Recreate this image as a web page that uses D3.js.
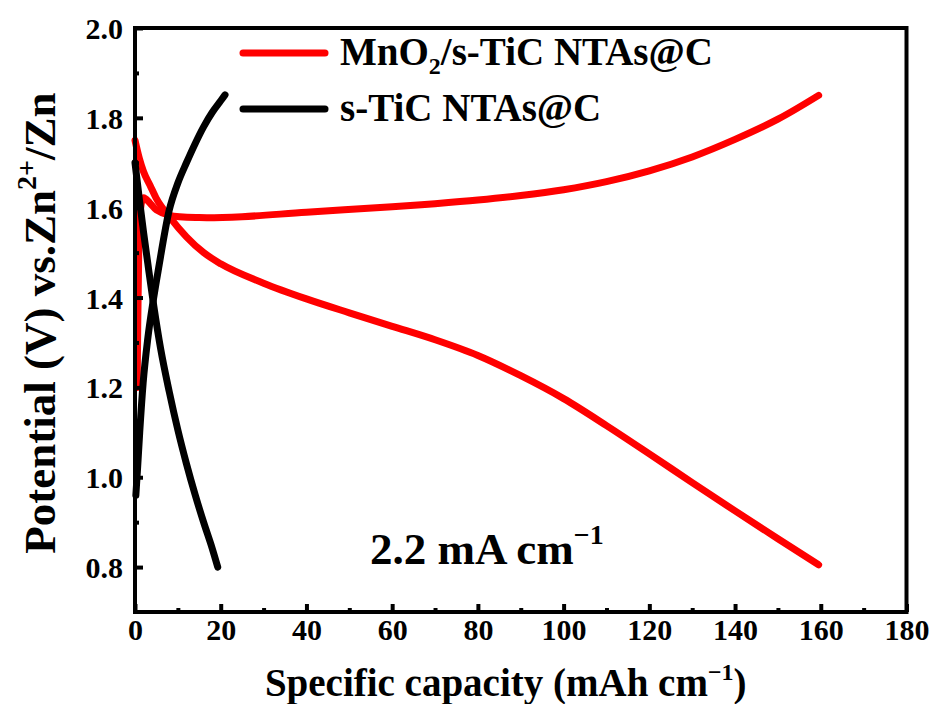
<!DOCTYPE html>
<html>
<head>
<meta charset="utf-8">
<script src="https://cdn.jsdelivr.net/npm/d3@7"></script>
<style>
  body { margin: 0; background: #fff; }
  svg text { font-family: "Liberation Serif", "Times New Roman", serif; font-weight: bold; fill: #000; }
</style>
</head>
<body>
<div id="chart"></div>
<script>
// capacity (mAh cm^-1), potential (V)
const mnCharge = [[0.5,1.20],[0.8,1.45],[1.2,1.59],[2,1.622],[3.5,1.61],[5,1.595],[8,1.583],[15,1.578],[25,1.58],[40,1.59],[60,1.602],[70,1.609],[80,1.617],[90,1.627],[100,1.64],[110,1.658],[120,1.682],[130,1.713],[140,1.752],[150,1.797],[159.5,1.85]];
const mnDischarge = [[0,1.75],[1,1.71],[2,1.68],[3.5,1.65],[5,1.62],[8,1.58],[12,1.535],[16,1.50],[20,1.475],[30,1.432],[40,1.397],[50,1.366],[60,1.336],[70,1.306],[80,1.271],[90,1.226],[100,1.175],[110,1.115],[120,1.052],[130,0.988],[140,0.925],[150,0.863],[159.5,0.805]];
const tiCharge = [[0.2,0.96],[0.6,1.02],[1.1,1.10],[1.9,1.21],[3,1.31],[4.2,1.39],[5.5,1.465],[8,1.595],[10,1.655],[12,1.70],[14,1.742],[16,1.78],[18,1.812],[20,1.838],[21,1.851]];
const tiDischarge = [[0,1.70],[1,1.62],[2,1.545],[3,1.475],[4.4,1.38],[6,1.285],[8,1.19],[10,1.105],[12,1.03],[14,0.962],[16,0.9],[18,0.842],[19.3,0.80]];

const seriesNames = ["MnO2/s-TiC NTAs@C", "s-TiC NTAs@C"];
const seriesColors = ["#ff0000", "#000000"];
const xTicks = [0, 20, 40, 60, 80, 100, 120, 140, 160, 180];
const yTicks = [0.8, 1.0, 1.2, 1.4, 1.6, 1.8, 2.0];

const W = 935, H = 704;
const margin = { top: 28, right: 28.5, bottom: 92, left: 135 };
const width = W - margin.left - margin.right, height = H - margin.top - margin.bottom;

const svg = d3.select("#chart").append("svg").attr("width", W).attr("height", H);
const g = svg.append("g").attr("transform", `translate(${margin.left},${margin.top})`);

const x = d3.scaleLinear().domain([0, 180]).range([0, width]);
const y = d3.scaleLinear().domain([0.7, 2.0]).range([height, 0]);

const smooth = d3.line().x(d => x(d[0])).y(d => y(d[1])).curve(d3.curveMonotoneX);
const loose = d3.line().x(d => x(d[0])).y(d => y(d[1])).curve(d3.curveCatmullRom.alpha(0.5));

// curves
[[mnCharge, 0, loose], [mnDischarge, 0, smooth], [tiCharge, 1, smooth], [tiDischarge, 1, smooth]].forEach(([data, i, gen]) => {
  g.append("path").datum(data)
    .attr("d", gen)
    .attr("fill", "none")
    .attr("stroke", seriesColors[i])
    .attr("stroke-width", 7)
    .attr("stroke-linecap", "round")
    .attr("stroke-linejoin", "round");
});

// axes with inward ticks
const xAxis = g.append("g").attr("transform", `translate(0,${height})`)
  .call(d3.axisBottom(x).tickValues(xTicks).tickSize(-8).tickPadding(28).tickFormat(d3.format("d")));
const xMinor = g.append("g").attr("transform", `translate(0,${height})`)
  .call(d3.axisBottom(x).tickValues(d3.range(10, 180, 20)).tickSize(-4).tickFormat(""));
const yAxis = g.append("g")
  .call(d3.axisLeft(y).tickValues(yTicks).tickSize(-8).tickPadding(12).tickFormat(d3.format(".1f")));
const yMinor = g.append("g")
  .call(d3.axisLeft(y).tickValues([0.9, 1.1, 1.3, 1.5, 1.7, 1.9]).tickSize(-4).tickFormat(""));

[xAxis, xMinor, yAxis, yMinor].forEach(a => {
  a.select(".domain").remove();
  a.selectAll(".tick line").attr("stroke", "#000").attr("stroke-width", 4);
  a.selectAll("text").style("font-size", "30px").attr("font-family", null);
});
xAxis.selectAll("text").attr("dy", null);
yAxis.selectAll("text").attr("dy", "0.35em");

// frame
g.append("rect").attr("x", 0).attr("y", 0).attr("width", width).attr("height", height)
  .attr("fill", "none").attr("stroke", "#000").attr("stroke-width", 4);

// axis titles
const xt = svg.append("text").attr("x", margin.left + width / 2 - 15).attr("y", 696)
  .attr("text-anchor", "middle").style("font-size", "39px");
xt.append("tspan").text("Specific capacity (mAh cm");
xt.append("tspan").text("\u22121").style("font-size", "24px").attr("dy", -16);
xt.append("tspan").text(")").attr("dy", 16);

const yt = svg.append("text").attr("transform", `translate(55,${margin.top + height / 2 + 3}) rotate(-90)`)
  .attr("text-anchor", "middle").style("font-size", "45px");
yt.append("tspan").text("Potential (V) vs.Zn");
yt.append("tspan").text("2+").style("font-size", "28px").attr("dy", -19);
yt.append("tspan").text("/Zn").attr("dy", 19);

// legend
seriesNames.forEach((name, i) => {
  const ly = 53 + i * 56;
  svg.append("line").attr("x1", 243).attr("x2", 325).attr("y1", ly).attr("y2", ly)
    .attr("stroke", seriesColors[i]).attr("stroke-width", 7).attr("stroke-linecap", "round");
  const t = svg.append("text").attr("x", 340).attr("y", ly + 12).style("font-size", "39px");
  if (name.startsWith("MnO2")) {
    t.append("tspan").text("MnO");
    t.append("tspan").text("2").style("font-size", "24px").attr("dy", 9);
    t.append("tspan").text("/s-TiC NTAs@C").attr("dy", -9);
  } else {
    t.text(name);
  }
});

// current density note
const note = svg.append("text").attr("x", 370).attr("y", 564).style("font-size", "45px");
note.append("tspan").text("2.2 mA cm");
note.append("tspan").text("\u22121").style("font-size", "28px").attr("dy", -20);
</script>
</body>
</html>
